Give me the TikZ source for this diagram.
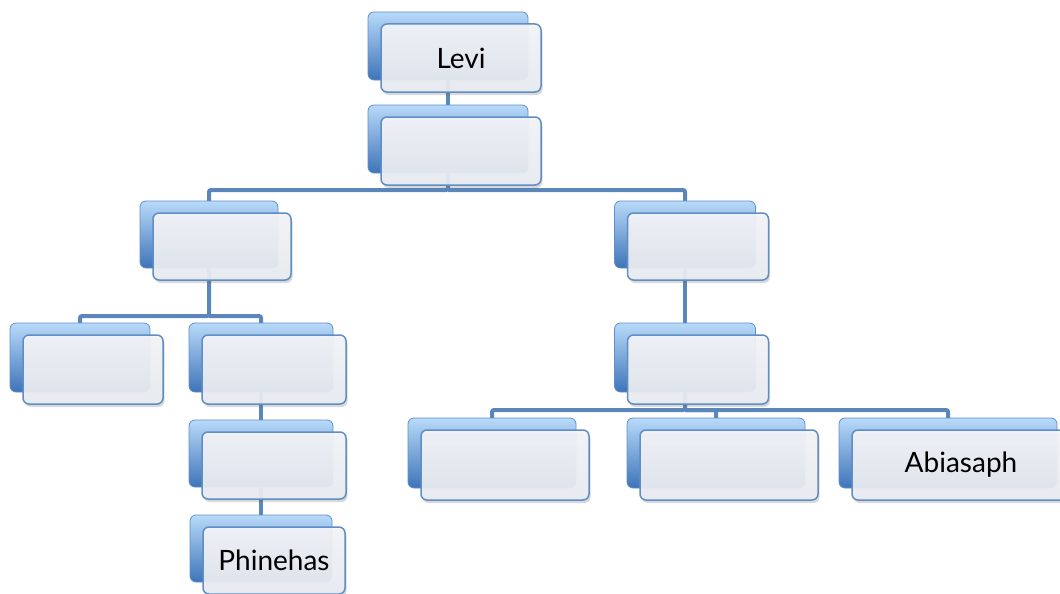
\documentclass[tikz,border=0pt]{standalone}
\usepackage{fontspec}
\setmainfont{Lato}
\usetikzlibrary{shadows}
\pgfdeclarelayer{background}
\pgfsetlayers{background,main}
\definecolor{conn}{HTML}{5A86BA}
\definecolor{backtop}{HTML}{B8DAFA}
\definecolor{backmid}{HTML}{6CA3E0}
\definecolor{backbot}{HTML}{3E74B8}
\definecolor{backedge}{HTML}{5F8FCB}
\definecolor{fronttop}{HTML}{F4F5F8}
\definecolor{frontbot}{HTML}{E9ECF1}
\definecolor{frontedge}{HTML}{5F8DC4}
\tikzset{
  backbox/.style={rectangle, rounded corners=6pt, top color=backtop, middle color=backmid, bottom color=backbot, draw=backedge, line width=0.8pt, inner sep=0pt},
  frontbox/.style={rectangle, rounded corners=6pt, top color=fronttop, bottom color=frontbot, fill opacity=0.93, text opacity=1, draw=frontedge, line width=1.5pt, inner sep=0pt, font=\fontsize{28}{33}\selectfont, text=black,
    drop shadow={shadow xshift=1.5pt, shadow yshift=-3pt, opacity=0.25, fill=black!60}},
  connector/.style={draw=conn, line width=4pt, rounded corners=2pt}
}
\newcommand\pairbox[6]{%
  \node[backbox, minimum width=#4pt, minimum height=#5pt] (#1b) at (#2,-#3) {};
  \node[frontbox, minimum width=#4pt, minimum height=#5pt] (#1) at (#2+13,-#3-12) {#6};}
\begin{document}
\begin{tikzpicture}[x=1pt,y=1pt]
\useasboundingbox (0,0) rectangle (1060,-594);
\pairbox{levi}{448}{46}{160}{68}{Levi}
\pairbox{n2}{448}{139}{160}{68}{}
\pairbox{lta}{209}{234.5}{138}{67}{}
\pairbox{ltb}{685}{234.5}{141}{67}{}
\pairbox{lha}{80}{357.5}{140}{69}{}
\pairbox{lhb}{261}{357.5}{144}{69}{}
\pairbox{lfb}{261}{453.5}{144}{67}{}
\pairbox{phin}{261}{548.5}{142}{67}{Phinehas}
\pairbox{rh}{685}{357.5}{141}{69}{}
\pairbox{rfa}{492}{453}{168}{70}{}
\pairbox{rfb}{716}{453}{178}{70}{}
\pairbox{abia}{948}{453}{218}{70}{Abiasaph}
\coordinate (h1) at (0,-190);
\coordinate (h2) at (0,-316);
\coordinate (h3) at (0,-410);
\begin{pgfonlayer}{background}
\draw[connector] (levib.center) -- (n2b.center);
\draw[connector] (n2b.center) -- (n2b.center |- h1) -| (ltab.center);
\draw[connector] (n2b.center |- h1) -| (ltbb.center);
\draw[connector] (ltab.center) -- (ltab.center |- h2) -| (lhab.center);
\draw[connector] (ltab.center |- h2) -| (lhbb.center);
\draw[connector] (lhbb.center) -- (lfbb.center) -- (phinb.center);
\draw[connector] (ltbb.center) -- (rhb.center);
\draw[connector] (rhb.center) -- (rhb.center |- h3) -| (rfab.center);
\draw[connector] (rhb.center |- h3) -| (rfbb.center);
\draw[connector] (rhb.center |- h3) -| (abiab.center);
\end{pgfonlayer}
\end{tikzpicture}
\end{document}
